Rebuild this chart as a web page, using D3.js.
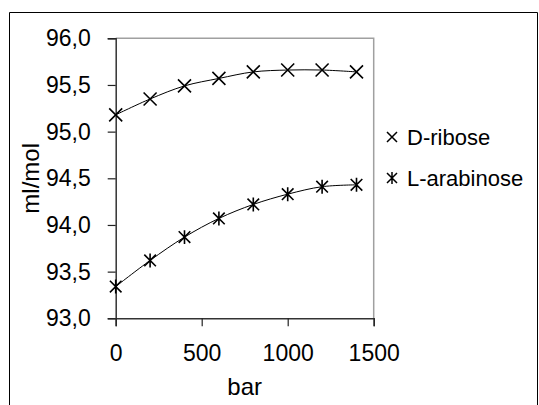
<!DOCTYPE html>
<html>
<head>
<meta charset="utf-8">
<script src="https://cdn.jsdelivr.net/npm/d3@7"></script>
<style>
  body { margin: 0; background: #fff; }
  text { font-family: Arial, "Liberation Sans", sans-serif; fill: #000; }
</style>
</head>
<body>
<div id="chart"></div>
<script>
// ---------------- DATA ----------------
var pressure = [0, 200, 400, 600, 800, 1000, 1200, 1400];
var riboseVol = [95.18, 95.35, 95.49, 95.57, 95.64, 95.66, 95.66, 95.64];
var arabinoseVol = [93.34, 93.62, 93.87, 94.07, 94.22, 94.33, 94.41, 94.43];
var xTicks = [0, 500, 1000, 1500];
var yTicks = [93.0, 93.5, 94.0, 94.5, 95.0, 95.5, 96.0];
var seriesNames = ["D-ribose", "L-arabinose"];

// ---------------- CANVAS ----------------
var svgWidth = 539, svgHeight = 405;
var plot = {left: 115.7, right: 373.7, top: 38.3, bottom: 318.3};

var svg = d3.select("#chart").append("svg")
    .attr("width", svgWidth)
    .attr("height", svgHeight);

// outer frame (open at the bottom)
svg.append("path")
  .attr("d", "M9.5,405 V12.5 H537.5 V405")
  .attr("fill", "none")
  .attr("stroke", "#000")
  .attr("stroke-width", 1);

// ---------------- SCALES ----------------
var x = d3.scaleLinear().domain([0, 1500]).range([plot.left, plot.right]);
var y = d3.scaleLinear().domain([93, 96]).range([plot.bottom, plot.top]);

// plot box: grey top/right
svg.append("path")
  .attr("d", `M${plot.left},${plot.top} H${plot.right} V${plot.bottom}`)
  .attr("fill", "none")
  .attr("stroke", "#a0a0a0")
  .attr("stroke-width", 1.5);

// ---------------- AXES ----------------
var fmt = d => d3.format(".1f")(d).replace(".", ",");

var yAxis = svg.append("g")
  .attr("transform", `translate(${plot.left},0)`)
  .call(d3.axisLeft(y).tickValues(yTicks).tickSize(8).tickPadding(17).tickFormat(fmt));

var xAxis = svg.append("g")
  .attr("transform", `translate(0,${plot.bottom})`)
  .call(d3.axisBottom(x).tickValues(xTicks).tickSize(8).tickPadding(18).tickFormat(d3.format("d")));

[yAxis, xAxis].forEach(function(g) {
  g.select(".domain").attr("stroke", "#333").attr("stroke-width", 1.5);
  g.selectAll(".tick line").attr("stroke", "#222").attr("stroke-width", 1.2);
  g.selectAll(".tick text")
    .attr("font-family", "Arial, 'Liberation Sans', sans-serif")
    .attr("font-size", 23)
    .attr("fill", "#000");
});

// axis titles
svg.append("text")
  .attr("x", (plot.left + plot.right) / 2)
  .attr("y", 395)
  .attr("text-anchor", "middle")
  .attr("font-size", 24)
  .text("bar");

svg.append("text")
  .attr("transform", `translate(39,${(plot.top + plot.bottom) / 2}) rotate(-90)`)
  .attr("text-anchor", "middle")
  .attr("font-size", 24)
  .text("ml/mol");

// ---------------- LINES ----------------
var line = d3.line()
  .x(d => x(d[0]))
  .y(d => y(d[1]))
  .curve(d3.curveCatmullRom.alpha(0.5));

var series = [
  {name: seriesNames[0], values: d3.zip(pressure, riboseVol), marker: "cross"},
  {name: seriesNames[1], values: d3.zip(pressure, arabinoseVol), marker: "star"}
];

svg.selectAll(".series-line")
  .data(series)
  .enter()
  .append("path")
    .attr("class", "series-line")
    .attr("d", d => line(d.values))
    .attr("fill", "none")
    .attr("stroke", "#000")
    .attr("stroke-width", 1);

// marker path builder
function markerPath(type, r) {
  var p = `M${-r},${-r}L${r},${r}M${-r},${r}L${r},${-r}`;
  if (type === "star") p += `M0,${-r * 1.2}L0,${r * 1.2}`;
  return p;
}

series.forEach(function(s) {
  svg.selectAll(null)
    .data(s.values)
    .enter()
    .append("path")
      .attr("transform", d => `translate(${x(d[0])},${y(d[1])})`)
      .attr("d", markerPath(s.marker, s.marker === "star" ? 5.8 : 6.5))
      .attr("fill", "none")
      .attr("stroke", "#000")
      .attr("stroke-width", 1.6);
});

// ---------------- LEGEND ----------------
var legendY = [137, 178];
var legend = svg.selectAll(".legend")
  .data(series)
  .enter()
  .append("g")
    .attr("class", "legend")
    .attr("transform", (d, i) => `translate(392,${legendY[i]})`);

legend.append("path")
  .attr("d", d => markerPath(d.marker, 5))
  .attr("fill", "none")
  .attr("stroke", "#000")
  .attr("stroke-width", 1.5);

legend.append("text")
  .attr("x", 15)
  .attr("y", 8)
  .attr("font-size", 22)
  .text(d => d.name);
</script>
</body>
</html>
